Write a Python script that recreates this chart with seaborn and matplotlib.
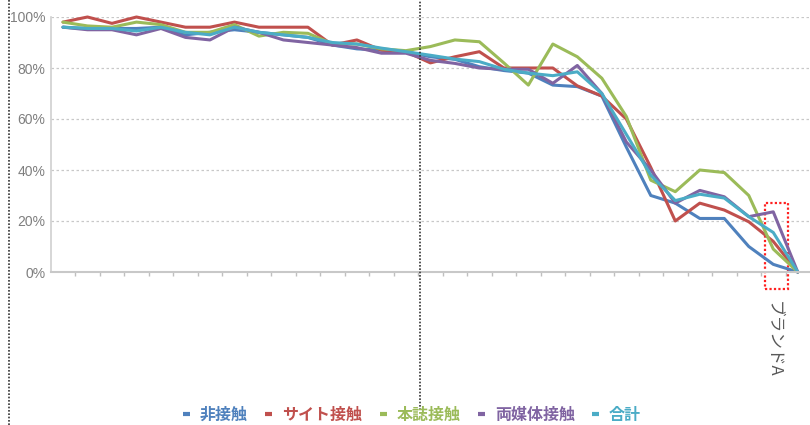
import numpy as np
import pandas as pd
import matplotlib
matplotlib.use("Agg")
import matplotlib.pyplot as plt
from matplotlib.patches import Rectangle
from matplotlib.lines import Line2D
import seaborn as sns

# データ (画像から読み取り, %)
series_names = ["非接触", "サイト接触", "本誌接触", "両媒体接触", "合計"]
colors = ["#4F81BD", "#C0504D", "#9BBB59", "#8064A2", "#4BACC6"]

non_contact = [96, 95.5, 95.5, 95.5, 96, 93, 94, 95, 94, 93, 92, 89, 87.5, 87, 86.4, 84.4,
               83.4, 80.5, 79, 78, 73.3, 72.7, 69, 49, 30, 27, 21, 21, 10, 3, 0]
site_contact = [98, 100, 97.5, 100, 98, 96, 96, 98, 96, 96, 96, 89, 91, 87, 86.4, 82,
                84.4, 86.4, 80, 80, 80, 73, 69, 60, 41, 20, 27, 24.3, 19.7, 12, 0]
magazine_contact = [98, 96.5, 96, 98, 97, 94, 94, 97, 92.5, 94, 93.6, 89.5, 89.4, 87.5, 86.8, 88.4,
                    91, 90.3, 82, 73.3, 89.4, 84.4, 76, 61, 36, 31.5, 40, 39, 30, 9, 0]
both_contact = [96, 95, 95, 93, 95.5, 92, 91, 96, 94, 91, 90, 89, 88, 85.8, 85.8, 83,
                81.8, 80, 79.5, 79.5, 74, 81, 70, 51, 40, 27, 32, 29.5, 21.7, 23.6, 0]
total = [96, 95.5, 95.5, 94.5, 96, 94, 93, 96, 94, 93, 92, 90, 89.4, 87.8, 86.4, 85,
         83.5, 82.5, 79.5, 78, 77, 78.5, 70, 54, 38, 28, 30.5, 29, 21.7, 15.5, 0]

n_cat = len(total)
x_labels = [""] * n_cat
x_labels[29] = "ブランドA"

values = [non_contact, site_contact, magazine_contact, both_contact, total]
df = pd.DataFrame({
    "x": np.tile(np.arange(n_cat), len(series_names)),
    "value": np.concatenate(values),
    "series": np.repeat(series_names, n_cat),
})

sns.set_theme(style="white")
plt.rcParams["font.family"] = ["Liberation Sans", "Noto Sans CJK JP", "DejaVu Sans"]
cjk = ["Noto Sans CJK JP", "DejaVu Sans"]

fig = plt.figure(figsize=(8.1, 4.25), dpi=100)
ax = fig.add_axes([50.75 / 810, 1 - 272 / 425, (810 - 50.75) / 810, 255 / 425])

sns.lineplot(data=df, x="x", y="value", hue="series", hue_order=series_names,
             palette=colors, linewidth=2.2, ax=ax, legend=False, clip_on=False)

ax.set_xlim(-0.5, n_cat - 0.5)
ax.set_ylim(0, 100)
ax.set_yticks([0, 20, 40, 60, 80, 100])
ax.set_yticklabels([f"{v}%" for v in [0, 20, 40, 60, 80, 100]], fontsize=10, color="#7f7f7f")
ax.yaxis.grid(True, color="#c8c8c8", linestyle=(0, (2, 2)), linewidth=0.9)
ax.set_axisbelow(True)

ax.set_xticks(np.arange(n_cat))
ax.set_xticklabels(x_labels, rotation=-90, fontsize=12, color="#595959", family=cjk, va="top")
ax.set_xticks(np.arange(n_cat - 1) + 0.5, minor=True)
ax.tick_params(axis="x", which="major", length=0, pad=21)
ax.tick_params(axis="x", which="minor", length=3, color="#bfbfbf", width=1, direction="out", bottom=True)
ax.tick_params(axis="y", length=0, pad=4)
ax.set_xlabel("")
ax.set_ylabel("")

for s in ["top", "right"]:
    ax.spines[s].set_visible(False)
ax.spines["left"].set_color("#d0d0d0")
ax.spines["left"].set_linewidth(1.2)
ax.spines["bottom"].set_color("#c8c8c8")
ax.spines["bottom"].set_linewidth(1.5)

# 赤い点線の枠
box = Rectangle((28.65, -6.7), 0.95, 33.7, fill=False, edgecolor="#ff2020",
                linestyle=(0, (1, 1)), linewidth=1.6, clip_on=False)
ax.add_patch(box)

# 凡例
handles = [Line2D([0], [0], color=c, linewidth=3, solid_capstyle="butt") for c in colors]
leg = fig.legend(handles, series_names, loc="center", bbox_to_anchor=(412 / 810, 1 - 415 / 425),
                 ncol=5, frameon=False, handlelength=0.45, handletextpad=0.6, columnspacing=1.1,
                 prop={"family": cjk, "size": 11.5, "weight": "bold"})
for t, c in zip(leg.get_texts(), colors):
    t.set_color(c)

# 黒い点線 (縦)
fig.add_artist(Line2D([9 / 810, 9 / 810], [0, 1], color="#333333", linestyle=(0, (1, 1)), linewidth=1.2))
fig.add_artist(Line2D([420 / 810, 420 / 810], [1 - 410 / 425, 1], color="#333333",
                      linestyle=(0, (1, 1)), linewidth=1.2))

fig.savefig("out.png", dpi=100)
